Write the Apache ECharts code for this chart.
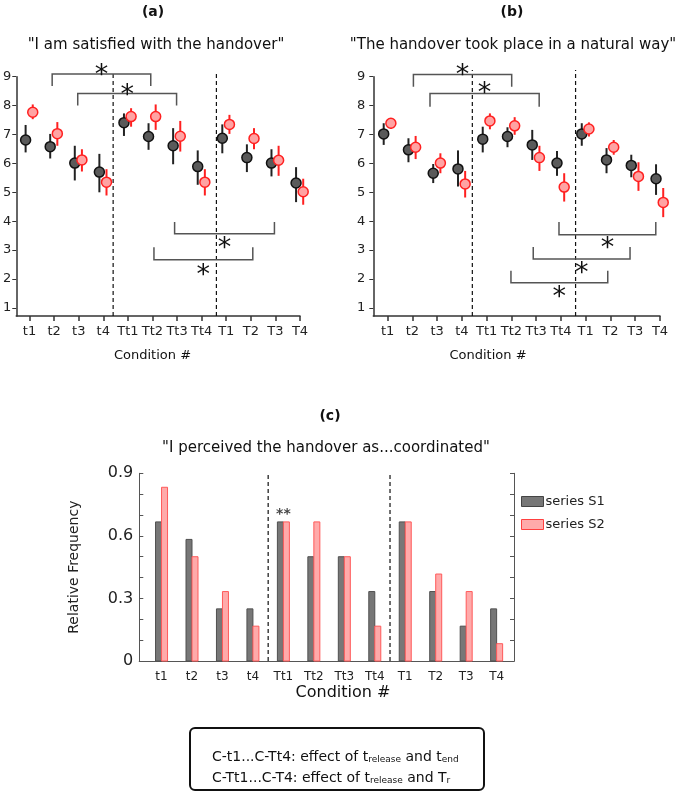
<!DOCTYPE html>
<html>
<head>
<meta charset="utf-8">
<script src="https://cdn.jsdelivr.net/npm/echarts@6/dist/echarts.min.js"></script>
<style>
  html, body { margin: 0; padding: 0; background: #fff; }
  #main { width: 685px; height: 792px; }
</style>
</head>
<body>
<div id="main"></div>
<script>
const categories = ['t1', 't2', 't3', 't4', 'Tt1', 'Tt2', 'Tt3', 'Tt4', 'T1', 'T2', 'T3', 'T4'];
const likertTicks = [1, 2, 3, 4, 5, 6, 7, 8, 9];
const freqLabels = [0, 0.3, 0.6, 0.9];
const freqTicks = [0, 0.1, 0.2, 0.3, 0.4, 0.5, 0.6, 0.7, 0.8, 0.9];

// (a) "I am satisfied with the handover" - mean and error bar ends
const satS1 = [6.81, 6.58, 6.01, 5.70, 7.41, 6.93, 6.61, 5.89, 6.87, 6.20, 6.01, 5.32];
const satS1Lo = [6.38, 6.17, 5.41, 5.00, 6.95, 6.47, 5.97, 5.26, 6.35, 5.70, 5.55, 4.66];
const satS1Hi = [7.33, 7.02, 6.61, 6.33, 7.73, 7.39, 7.22, 6.45, 7.35, 6.66, 6.49, 5.87];
const satS2 = [7.77, 7.03, 6.12, 5.35, 7.62, 7.62, 6.94, 5.35, 7.35, 6.86, 6.11, 5.02];
const satS2Lo = [7.53, 6.61, 5.72, 4.89, 7.27, 7.16, 6.41, 4.89, 7.02, 6.49, 5.57, 4.57];
const satS2Hi = [8.04, 7.43, 6.49, 5.80, 7.91, 8.04, 7.47, 5.80, 7.68, 7.22, 6.61, 5.47];

// (b) "The handover took place in a natural way"
const natS1 = [7.02, 6.47, 5.66, 5.81, 6.84, 6.93, 6.64, 6.01, 7.02, 6.12, 5.93, 5.47];
const natS1Lo = [6.64, 6.04, 5.32, 5.20, 6.38, 6.56, 6.12, 5.57, 6.61, 5.66, 5.52, 4.91];
const natS1Hi = [7.39, 6.87, 5.98, 6.45, 7.27, 7.25, 7.16, 6.43, 7.39, 6.53, 6.30, 5.97];
const natS2 = [7.39, 6.56, 6.01, 5.29, 7.47, 7.30, 6.20, 5.18, 7.19, 6.56, 5.55, 4.65];
const natS2Lo = [7.19, 6.15, 5.66, 4.82, 7.18, 6.99, 5.74, 4.68, 6.93, 6.30, 5.05, 4.14];
const natS2Hi = [7.56, 6.95, 6.35, 5.74, 7.73, 7.60, 6.61, 5.66, 7.42, 6.81, 6.04, 5.15];

// (c) relative frequency "coordinated"
const coordS1 = [0.667, 0.583, 0.25, 0.25, 0.667, 0.5, 0.5, 0.333, 0.667, 0.333, 0.167, 0.25];
const coordS2 = [0.833, 0.5, 0.333, 0.167, 0.667, 0.667, 0.5, 0.167, 0.667, 0.417, 0.333, 0.083];

// significance brackets: [x from, x to, bar level, leg end, star level]
const bracketsA = [
  [1.92, 5.93, 9.09, 8.68, 9.29],
  [2.96, 6.98, 8.42, 8.0, 8.60],
  [6.90, 10.96, 3.57, 3.97, 3.30],
  [6.06, 10.08, 2.67, 3.10, 2.38]
];
const bracketsB = [
  [2.04, 6.01, 9.08, 8.65, 9.29],
  [2.71, 7.12, 8.42, 7.96, 8.68],
  [7.92, 11.83, 3.53, 3.97, 3.30],
  [6.88, 10.79, 2.69, 3.11, 2.44],
  [5.98, 9.89, 1.87, 2.29, 1.61]
];
const dividersA = [4.4, 8.6];
const dividersB = [4.42, 8.59];
const dividersC = [4.5, 8.5];

const FONT = 'DejaVu Sans';
const S1_OFF = -0.16, S2_OFF = 0.13;

const chart = echarts.init(document.getElementById('main'));

function errSeries(axis, lo, hi, off, color) {
  return {
    type: 'custom', xAxisIndex: axis, yAxisIndex: axis, z: 2, silent: true, clip: false,
    data: categories.map((c, i) => [i + 1 + off, lo[i], hi[i]]),
    renderItem: (params, api) => {
      const a = api.coord([api.value(0), api.value(1)]);
      const b = api.coord([api.value(0), api.value(2)]);
      return { type: 'line', shape: { x1: a[0], y1: a[1], x2: b[0], y2: b[1] }, style: { stroke: color, lineWidth: 2 } };
    }
  };
}

function dotSeries(axis, vals, off, fill, border) {
  return {
    type: 'scatter', xAxisIndex: axis, yAxisIndex: axis, z: 3, silent: true, clip: false,
    symbolSize: 10,
    itemStyle: { color: fill, borderColor: border, borderWidth: 1.5, opacity: 1 },
    data: vals.map((v, i) => [i + 1 + off, v])
  };
}

function bracketSeries(axis, rows) {
  return {
    type: 'custom', xAxisIndex: axis, yAxisIndex: axis, z: 4, silent: true, clip: false,
    data: rows,
    renderItem: (params, api) => {
      const x1 = api.value(0), x2 = api.value(1), y = api.value(2), leg = api.value(3), sy = api.value(4);
      const pts = [api.coord([x1, leg]), api.coord([x1, y]), api.coord([x2, y]), api.coord([x2, leg])];
      const s = api.coord([(x1 + x2) / 2, sy]);
      return {
        type: 'group', children: [
          { type: 'polyline', shape: { points: pts }, style: { stroke: '#555', lineWidth: 1.5, fill: 'none' } },
          { type: 'text', x: s[0], y: s[1] + 8, style: { text: '*', font: '27px ' + FONT, fill: '#111', align: 'center', verticalAlign: 'middle' } }
        ]
      };
    }
  };
}

function dividerSeries(axis, xs, y0, y1) {
  return {
    type: 'custom', xAxisIndex: axis, yAxisIndex: axis, z: 1, silent: true, clip: false,
    data: xs.map(x => [x, y0, y1]),
    renderItem: (params, api) => {
      const a = api.coord([api.value(0), api.value(1)]);
      const b = api.coord([api.value(0), api.value(2)]);
      return { type: 'line', shape: { x1: a[0], y1: a[1], x2: b[0], y2: b[1] }, style: { stroke: '#111', lineWidth: 1.2, lineDash: [4, 3] } };
    }
  };
}

function barSeries(name, vals, shift, fill, border) {
  return {
    name: name, type: 'custom', xAxisIndex: 2, yAxisIndex: 2, z: 2, silent: true,
    itemStyle: { color: fill, borderColor: border },
    data: vals.map((v, i) => [i + 1, v]),
    renderItem: (params, api) => {
      const base = api.coord([api.value(0), 0]);
      const top = api.coord([api.value(0), api.value(1)]);
      return {
        type: 'rect',
        shape: { x: base[0] + shift, y: top[1], width: 6, height: base[1] - top[1] },
        style: { fill: fill, stroke: border, lineWidth: 1 }
      };
    }
  };
}

const catFormatter = v => categories[Math.round(v) - 1] || '';
const catValues = categories.map((c, i) => i + 1);

function likertX(grid, min, max) {
  return {
    type: 'value', gridIndex: grid, min: min, max: max,
    axisLine: { lineStyle: { color: '#333', width: 1.5 } },
    axisTick: { show: true, length: 5, customValues: catValues, lineStyle: { color: '#333', width: 1.5 } },
    axisLabel: { customValues: catValues, formatter: catFormatter, margin: 9, fontFamily: FONT, fontSize: 13, color: '#222' },
    splitLine: { show: false }
  };
}
function likertY(grid, margin) {
  return {
    type: 'value', gridIndex: grid, min: 0.72, max: 9,
    axisLine: { show: true, lineStyle: { color: '#333', width: 1.5 } },
    axisTick: { show: true, length: 4, customValues: likertTicks, lineStyle: { color: '#333' } },
    axisLabel: { customValues: likertTicks, margin: margin, fontFamily: FONT, fontSize: 13, color: '#222' },
    splitLine: { show: false }
  };
}

function label(x, y, text, font) {
  return { type: 'text', x: x, y: y, style: { text: text, font: font, fill: '#111', align: 'center', verticalAlign: 'middle' } };
}

const subStyle = { s: { fontSize: 9, fontFamily: FONT, fill: '#111', lineHeight: 12, verticalAlign: 'bottom' } };

const option = {
  animation: false,
  backgroundColor: '#fff',
  grid: [
    { left: 15, right: 385, top: 76.7, bottom: 476 },
    { left: 373.3, right: 25, top: 76.7, bottom: 476 },
    { left: 139.3, right: 171, top: 473.3, bottom: 131 }
  ],
  xAxis: [
    likertX(0, 0.46, 12),
    likertX(1, 0.42, 12),
    {
      type: 'value', gridIndex: 2, min: 0.27, max: 12.57,
      axisLine: { lineStyle: { color: '#555', width: 1 } },
      axisTick: { show: false },
      axisLabel: { customValues: catValues, formatter: catFormatter, margin: 10, fontFamily: FONT, fontSize: 12, color: '#222' },
      splitLine: { show: false }
    },
    {
      type: 'value', gridIndex: 2, position: 'top', min: 0.27, max: 12.57,
      axisLine: { lineStyle: { color: '#555', width: 1 } },
      axisTick: { show: false }, axisLabel: { show: false }, splitLine: { show: false }
    }
  ],
  yAxis: [
    likertY(0, 5),
    likertY(1, 8),
    {
      type: 'value', gridIndex: 2, min: 0, max: 0.9,
      name: 'Relative Frequency', nameLocation: 'middle', nameGap: 58, nameRotate: 90,
      nameTextStyle: { fontFamily: FONT, fontSize: 14, color: '#222' },
      axisLine: { show: true, lineStyle: { color: '#555', width: 1 } },
      axisTick: { show: true, inside: true, length: 4, customValues: freqTicks, lineStyle: { color: '#555' } },
      axisLabel: { customValues: freqLabels, margin: 6, fontFamily: FONT, fontSize: 16, color: '#222' },
      splitLine: { show: false }
    },
    {
      type: 'value', gridIndex: 2, position: 'right', min: 0, max: 0.9,
      axisLine: { show: true, lineStyle: { color: '#555', width: 1 } },
      axisTick: { show: true, inside: true, length: 4, customValues: freqTicks, lineStyle: { color: '#555' } },
      axisLabel: { show: false }, splitLine: { show: false }
    }
  ],
  legend: {
    orient: 'vertical', left: 516, top: 490, itemWidth: 22, itemHeight: 10, itemGap: 10,
    textStyle: { fontFamily: FONT, fontSize: 13, color: '#222', padding: [0, 0, 0, -3] },
    data: [
      { name: 'series S1', icon: 'rect', itemStyle: { color: '#777', borderColor: '#444', borderWidth: 1 } },
      { name: 'series S2', icon: 'rect', itemStyle: { color: '#ffaaaa', borderColor: '#ff4040', borderWidth: 1 } }
    ]
  },
  graphic: [
    label(153, 12.5, '(a)', 'bold 14px ' + FONT),
    label(156, 45, '"I am satisfied with the handover"', '15px ' + FONT),
    label(512, 12.5, '(b)', 'bold 14px ' + FONT),
    label(513, 45, '"The handover took place in a natural way"', '15px ' + FONT),
    label(152.5, 356, 'Condition #', '13px ' + FONT),
    label(488, 356, 'Condition #', '13px ' + FONT),
    label(330, 416, '(c)', 'bold 14px ' + FONT),
    label(326, 448, '"I perceived the handover as...coordinated"', '15px ' + FONT),
    label(343, 693, 'Condition #', '16px ' + FONT),
    { type: 'rect', shape: { x: 190, y: 728, width: 294, height: 62, r: 5 }, style: { fill: '#fff', stroke: '#111', lineWidth: 2 } },
    {
      type: 'text', x: 212, y: 757,
      style: { text: 'C-t1...C-Tt4: effect of t{s|release} and t{s|end}', font: '14px ' + FONT, fill: '#111', verticalAlign: 'middle', rich: subStyle }
    },
    {
      type: 'text', x: 212, y: 778,
      style: { text: 'C-Tt1...C-T4: effect of t{s|release} and T{s|r}', font: '14px ' + FONT, fill: '#111', verticalAlign: 'middle', rich: subStyle }
    }
  ],
  series: [
    dividerSeries(0, dividersA, 0.72, 9.17),
    errSeries(0, satS1Lo, satS1Hi, S1_OFF, '#222'),
    errSeries(0, satS2Lo, satS2Hi, S2_OFF, '#ff2020'),
    dotSeries(0, satS1, S1_OFF, '#5a5a5a', '#111'),
    dotSeries(0, satS2, S2_OFF, '#ffa3a3', '#ff2020'),
    bracketSeries(0, bracketsA),

    dividerSeries(1, dividersB, 0.72, 9.23),
    errSeries(1, natS1Lo, natS1Hi, S1_OFF, '#222'),
    errSeries(1, natS2Lo, natS2Hi, S2_OFF, '#ff2020'),
    dotSeries(1, natS1, S1_OFF, '#5a5a5a', '#111'),
    dotSeries(1, natS2, S2_OFF, '#ffa3a3', '#ff2020'),
    bracketSeries(1, bracketsB),

    dividerSeries(2, dividersC, 0, 0.9),
    barSeries('series S1', coordS1, -6, '#777', '#505050'),
    barSeries('series S2', coordS2, 0, '#ffaaaa', '#ff5a5a'),
    {
      type: 'scatter', xAxisIndex: 2, yAxisIndex: 2, z: 5, silent: true,
      symbolSize: 1, itemStyle: { color: 'rgba(0,0,0,0)' },
      data: [[5, coordS1[4]]],
      label: { show: true, position: 'top', distance: 0, formatter: '**', fontFamily: FONT, fontSize: 14, fontWeight: 'bold', color: '#111' }
    }
  ]
};

chart.setOption(option);
</script>
</body>
</html>
